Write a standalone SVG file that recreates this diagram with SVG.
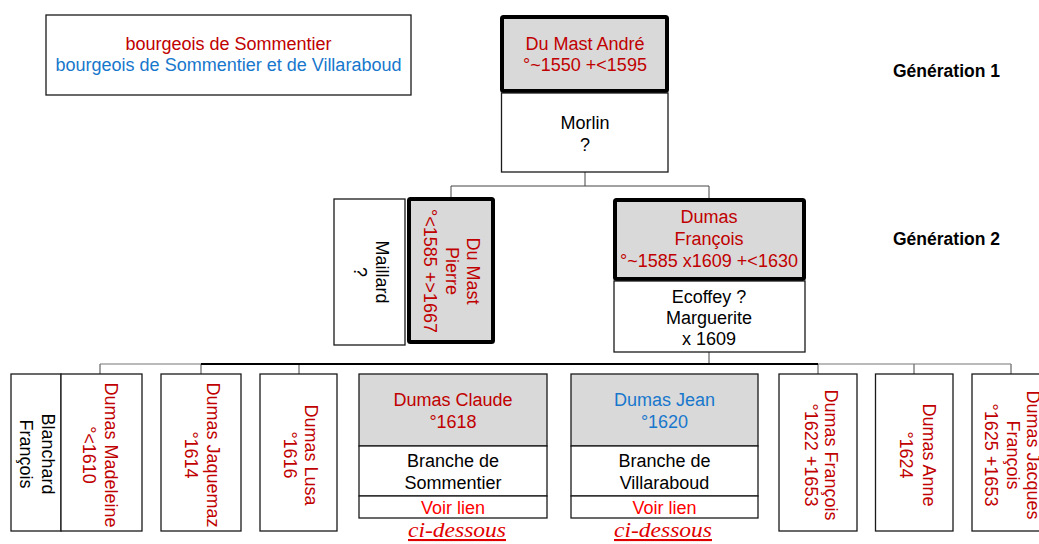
<svg xmlns="http://www.w3.org/2000/svg" width="1039" height="544" viewBox="0 0 1039 544">
<style>
text{font-family:"Liberation Sans",Arial,sans-serif;font-size:18px;}
.r{fill:#c00000;}
.b{fill:#1777cc;}
.k{fill:#000;}
.lr{fill:#ff0000;}
.m{text-anchor:middle;}
.box{fill:#fff;stroke:#1a1a1a;stroke-width:1.3;}
.gbox{fill:#d9d9d9;stroke:#1a1a1a;stroke-width:1.3;}
.thick{fill:#d9d9d9;stroke:#000;stroke-width:4;}
.gen{font-weight:bold;font-size:17.5px;fill:#000;}
.cd{font-family:"Liberation Serif","Times New Roman",serif;font-style:italic;font-size:21px;fill:#e00000;text-anchor:middle;text-decoration:underline;}
.v{text-anchor:middle;}
.conn{fill:none;stroke:#444;stroke-width:1;}
</style>
<rect width="1039" height="544" fill="#fff"/>
<g id="legend">
<rect class="box" x="46" y="15" width="365" height="80"/>
<text class="r m" x="228.5" y="50">bourgeois de Sommentier</text>
<text class="b m" x="228.5" y="71">bourgeois de Sommentier et de Villaraboud</text>
</g>
<g id="gen-labels">
<text class="gen" x="893" y="77">Génération 1</text>
<text class="gen" x="893" y="245">Génération 2</text>
</g>
<g id="connectors">
<path class="conn" d="M585,172V186M451,186H709M451,186V197M709,186V198"/>
<path class="conn" d="M709,352V364M100,364V374M201,364V374M299,364V374M818,364V374M914,364V374M1011,364V374"/>
<path d="M100,364H201M818,364H1011" fill="none" stroke="#777" stroke-width="1.2"/>
<path d="M201,364H818" fill="none" stroke="#000" stroke-width="2"/>
</g>
<g id="n-andre">
<rect class="thick" x="502" y="17" width="165" height="74" rx="1.5"/>
<text class="r m" x="585" y="50">Du Mast André</text>
<text class="r m" x="585" y="71">°~1550 +&lt;1595</text>
</g>
<g id="n-morlin">
<rect class="box" x="501.5" y="93" width="166.5" height="79"/>
<text class="k m" x="585" y="129">Morlin</text>
<text class="k m" x="585" y="151">?</text>
</g>
<g id="n-maillard">
<rect class="box" x="334" y="199" width="71" height="146"/>
<text class="k v" transform="translate(375.5,272) rotate(90)">Maillard</text>
<text class="k v" transform="translate(353.5,272) rotate(90)">?</text>
</g>
<g id="n-pierre">
<rect class="thick" x="409" y="199" width="84" height="143" rx="1.5"/>
<text class="r v" transform="translate(467,271) rotate(90)">Du Mast</text>
<text class="r v" transform="translate(446,271) rotate(90)">Pierre</text>
<text class="r v" transform="translate(424,271) rotate(90)">°&lt;1585 +&gt;1667</text>
</g>
<g id="n-francois">
<rect class="thick" x="615" y="200" width="189" height="79" rx="1.5"/>
<text class="r m" x="709" y="223">Dumas</text>
<text class="r m" x="709" y="245">François</text>
<text class="r m" x="709" y="267">°~1585 x1609 +&lt;1630</text>
</g>
<g id="n-ecoffey">
<rect class="box" x="614" y="281" width="191" height="71"/>
<text class="k m" x="709" y="303">Ecoffey ?</text>
<text class="k m" x="709" y="324">Marguerite</text>
<text class="k m" x="709" y="345">x 1609</text>
</g>
<g id="n-blanchard">
<rect class="box" x="11" y="374" width="50" height="157"/>
<text class="k v" transform="translate(41.5,454) rotate(90)">Blanchard</text>
<text class="k v" transform="translate(20,454) rotate(90)">François</text>
</g>
<g id="n-madeleine">
<rect class="box" x="61" y="374" width="81" height="157"/>
<text class="r v" transform="translate(104.5,455) rotate(90)">Dumas Madeleine</text>
<text class="r v" transform="translate(83,455) rotate(90)">°&lt;1610</text>
</g>
<g id="n-jaquemaz">
<rect class="box" x="161" y="374" width="80" height="157"/>
<text class="r v" transform="translate(207,455) rotate(90)">Dumas Jaquemaz</text>
<text class="r v" transform="translate(185,455) rotate(90)">°1614</text>
</g>
<g id="n-lusa">
<rect class="box" x="260" y="374" width="77" height="157"/>
<text class="r v" transform="translate(305,455) rotate(90)">Dumas Lusa</text>
<text class="r v" transform="translate(283.5,455) rotate(90)">°1616</text>
</g>
<g id="n-claude">
<rect class="gbox" x="359" y="374" width="188" height="72"/>
<rect class="box" x="359" y="446" width="188" height="50"/>
<rect class="box" x="359" y="496" width="188" height="22"/>
<text class="r m" x="453" y="406">Dumas Claude</text>
<text class="r m" x="453" y="428">°1618</text>
<text class="k m" x="453" y="467">Branche de</text>
<text class="k m" x="453" y="489">Sommentier</text>
<text class="lr m" x="453" y="514">Voir lien</text>
<text class="cd" x="457" y="537" textLength="98" lengthAdjust="spacingAndGlyphs">ci-dessous</text>
</g>
<g id="n-jean">
<rect class="gbox" x="571" y="374" width="187" height="72"/>
<rect class="box" x="571" y="446" width="187" height="50"/>
<rect class="box" x="571" y="496" width="187" height="22"/>
<text class="b m" x="664.5" y="406">Dumas Jean</text>
<text class="b m" x="664.5" y="428">°1620</text>
<text class="k m" x="664.5" y="467">Branche de</text>
<text class="k m" x="664.5" y="489">Villaraboud</text>
<text class="lr m" x="664.5" y="514">Voir lien</text>
<text class="cd" x="663" y="537" textLength="98" lengthAdjust="spacingAndGlyphs">ci-dessous</text>
</g>
<g id="n-francois2">
<rect class="box" x="779" y="374" width="78" height="157"/>
<text class="r v" transform="translate(825,455) rotate(90)">Dumas François</text>
<text class="r v" transform="translate(805,455) rotate(90)">°1622 +1653</text>
</g>
<g id="n-anne">
<rect class="box" x="875.5" y="374" width="77.5" height="157"/>
<text class="r v" transform="translate(923,455) rotate(90)">Dumas Anne</text>
<text class="r v" transform="translate(900,455) rotate(90)">°1624</text>
</g>
<g id="n-jacques">
<rect class="box" x="972" y="374" width="78" height="157"/>
<text class="r v" transform="translate(1027,455) rotate(90)">Dumas Jacques</text>
<text class="r v" transform="translate(1007,455) rotate(90)">François</text>
<text class="r v" transform="translate(985,455) rotate(90)">°1625 +1653</text>
</g>
</svg>
